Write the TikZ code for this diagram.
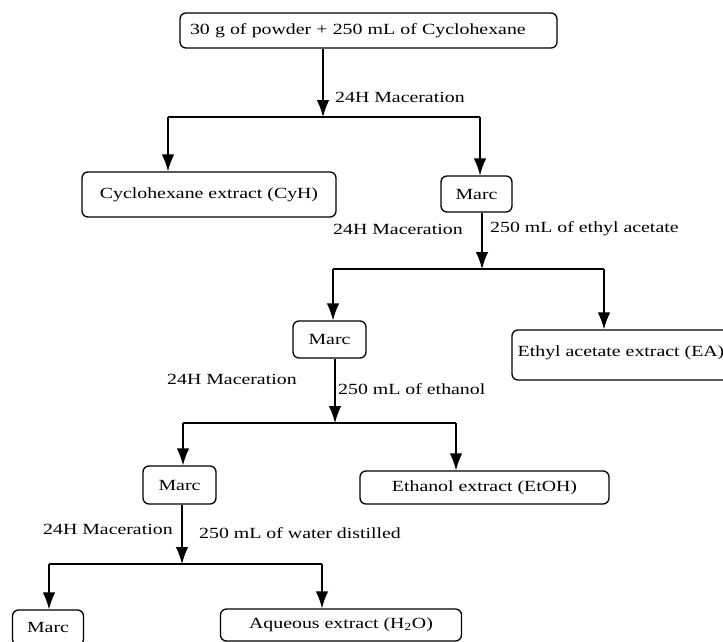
\documentclass[tikz,border=0pt]{standalone}
\usepackage{fontspec}
\setmainfont{Liberation Serif}[FakeStretch=1.28]
\usetikzlibrary{arrows.meta}
\newcommand\diagfont{\fontsize{15.5}{18}\selectfont}
\begin{document}
\begin{tikzpicture}[x=1pt,y=-1pt,
  box/.style={draw, line width=1.3pt, rounded corners=6pt, inner sep=0pt, font=\diagfont},
  lab/.style={anchor=west, inner sep=0pt, font=\diagfont},
  arr/.style={line width=1.3pt, -{Latex[length=17pt,width=12.5pt]}},
  ln/.style={line width=1.3pt}]
\useasboundingbox (0,0) rectangle (723,642);
% boxes
\node[box, minimum width=377, minimum height=35, text width=357, align=left] (top) at (368.5,30.5) {30 g of powder + 250 mL of Cyclohexane};
\node[box, minimum width=254, minimum height=45] (cyh) at (209,194.5) {Cyclohexane extract (CyH)};
\node[box, minimum width=71, minimum height=36] (m1) at (476.5,194) {Marc};
\node[box, minimum width=73, minimum height=37] (m2) at (329.5,339.5) {Marc};
\node[box, minimum width=218, minimum height=50, text depth=8pt] (ea) at (621,355) {Ethyl acetate extract (EA)};
\node[box, minimum width=73, minimum height=38] (m3) at (179.5,485) {Marc};
\node[box, minimum width=249, minimum height=33] (etoh) at (484.5,487.5) {Ethanol extract (EtOH)};
\node[box, minimum width=71, minimum height=35] (m4) at (48,627.5) {Marc};
\node[box, minimum width=241, minimum height=32] (aq) at (341,625) {Aqueous extract (H\textsubscript{2}O)};
% junctions
\coordinate (j1) at (323,117); \coordinate (j1l) at (168,117); \coordinate (j1r) at (480,117);
\coordinate (j2) at (482,269); \coordinate (j2l) at (333,269); \coordinate (j2r) at (604,269);
\coordinate (j3) at (335,423); \coordinate (j3l) at (183,423); \coordinate (j3r) at (456,423);
\coordinate (j4) at (182,564); \coordinate (j4l) at (49,564); \coordinate (j4r) at (322,564);
% stage 1
\draw[arr] (top.south -| j1) -- (j1);
\draw[ln] (j1l) -- (j1r);
\draw[arr] (j1l) -- (j1l |- cyh.north);
\draw[arr] (j1r) -- (j1r |- m1.north);
\node[lab] (l1) at (335,97) {24H Maceration};
% stage 2
\draw[arr] (m1.south -| j2) -- (j2);
\draw[ln] (j2l) -- (j2r);
\draw[arr] (j2l) -- (j2l |- m2.north);
\draw[arr] (j2r) -- (j2r |- ea.north);
\node[lab] (l2a) at (333,229) {24H Maceration};
\node[lab] (l2b) at (490,229) {250 mL of ethyl acetate};
% stage 3
\draw[arr] (m2.south -| j3) -- (j3);
\draw[ln] (j3l) -- (j3r);
\draw[arr] (j3l) -- (j3l |- m3.north);
\draw[arr] (j3r) -- (j3r |- etoh.north);
\node[lab] (l3a) at (167,379) {24H Maceration};
\node[lab] (l3b) at (338,389) {250 mL of ethanol};
% stage 4
\draw[arr] (m3.south -| j4) -- (j4);
\draw[ln] (j4l) -- (j4r);
\draw[arr] (j4l) -- (j4l |- m4.north);
\draw[arr] (j4r) -- (j4r |- aq.north);
\node[lab] (l4a) at (43,529) {24H Maceration};
\node[lab] (l4b) at (199,533) {250 mL of water distilled};
\end{tikzpicture}
\end{document}
